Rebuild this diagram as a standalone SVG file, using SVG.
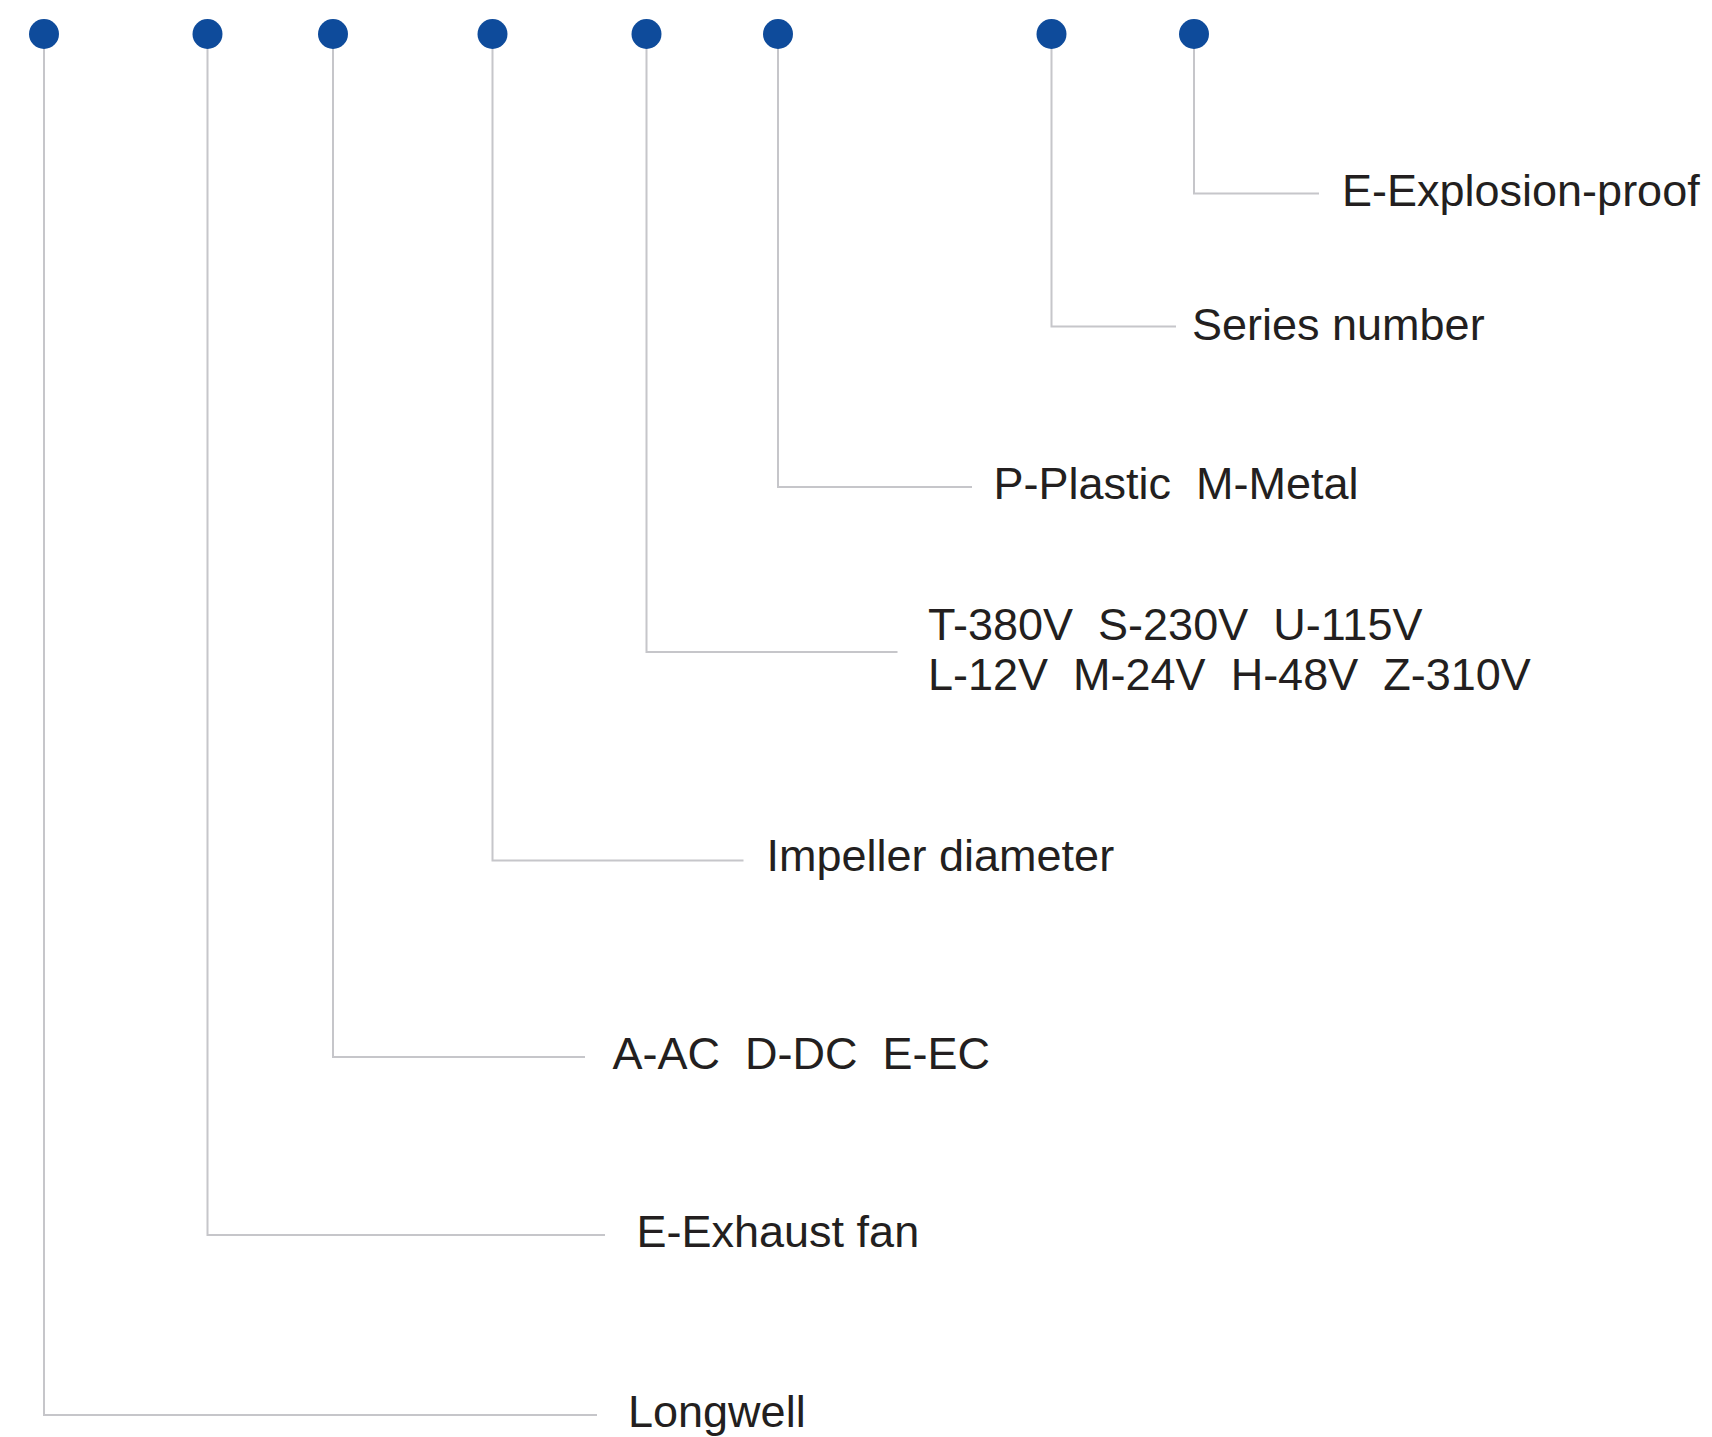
<svg xmlns="http://www.w3.org/2000/svg" width="1712" height="1437" viewBox="0 0 1712 1437">
<style>
.dot{fill:#0e4b9b}
.conn{fill:none;stroke:#c6c6ca;stroke-width:2}
.lbl{font-family:"Liberation Sans",Arial,sans-serif;font-size:45px;fill:#231f20}
</style>
<rect width="1712" height="1437" fill="#ffffff"/>
<g id="connectors">
<path class="conn" d="M44 34 V1415 H597"/>
<path class="conn" d="M207.5 34 V1235 H605"/>
<path class="conn" d="M333 34 V1057 H585"/>
<path class="conn" d="M492.5 34 V860.5 H743.5"/>
<path class="conn" d="M646.5 34 V652 H897.5"/>
<path class="conn" d="M778 34 V487 H972"/>
<path class="conn" d="M1051.5 34 V326.5 H1176"/>
<path class="conn" d="M1194 34 V193.5 H1319"/>
</g>
<g id="dots">
<circle class="dot" cx="44" cy="34" r="15"/>
<circle class="dot" cx="207.5" cy="34" r="15"/>
<circle class="dot" cx="333" cy="34" r="15"/>
<circle class="dot" cx="492.5" cy="34" r="15"/>
<circle class="dot" cx="646.5" cy="34" r="15"/>
<circle class="dot" cx="778" cy="34" r="15"/>
<circle class="dot" cx="1051.5" cy="34" r="15"/>
<circle class="dot" cx="1194" cy="34" r="15"/>
</g>
<g id="node-explosion"><text class="lbl" x="1342" y="205.5">E-Explosion-proof</text></g>
<g id="node-series"><text class="lbl" x="1192" y="339.5">Series number</text></g>
<g id="node-material"><text class="lbl" x="993.5" y="499" xml:space="preserve">P-Plastic  M-Metal</text></g>
<g id="node-voltage">
<text class="lbl" x="928" y="640" xml:space="preserve">T-380V  S-230V  U-115V</text>
<text class="lbl" x="928" y="690" xml:space="preserve">L-12V  M-24V  H-48V  Z-310V</text>
</g>
<g id="node-impeller"><text class="lbl" x="766.5" y="871">Impeller diameter</text></g>
<g id="node-current"><text class="lbl" x="612.5" y="1069" xml:space="preserve">A-AC  D-DC  E-EC</text></g>
<g id="node-exhaust"><text class="lbl" x="636.5" y="1247">E-Exhaust fan</text></g>
<g id="node-longwell"><text class="lbl" x="628" y="1427">Longwell</text></g>
</svg>
